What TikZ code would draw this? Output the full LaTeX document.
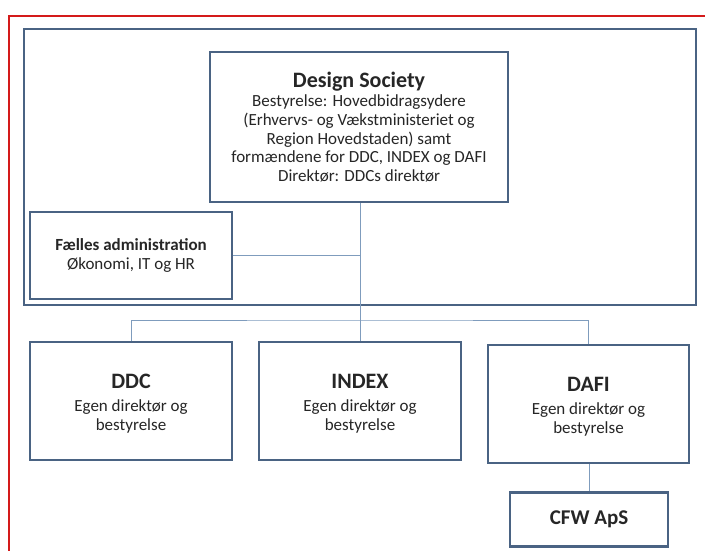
\documentclass[tikz,border=0pt]{standalone}
\usepackage{fontspec}
\setmainfont{Carlito}
\definecolor{boxline}{HTML}{4A6383}
\definecolor{conn}{HTML}{7F9CBD}
\definecolor{frame}{HTML}{D41A1A}
\begin{document}
\begin{tikzpicture}[x=1pt,y=-1pt,
  orgbox/.style={draw=boxline,line width=2.4pt,fill=white,align=center,inner sep=1pt,text=black!85,
    font=\fontsize{17}{18.7}\selectfont},
  connector/.style={draw=conn,line width=1pt}
]
\useasboundingbox (0,0) rectangle (705,550);
\fill[white] (0,0) rectangle (705,550);
% red frame
\draw[frame,line width=2pt] (9,560) -- (9,16) -- (720,16);
% outer container
\draw[boxline,line width=2.4pt] (24,29) rectangle (696,305);
% nodes
\node[orgbox,minimum width=298,minimum height=150] (ds) at (359,127)
  {{\fontsize{22}{23}\selectfont\bfseries Design Society}\\[1pt]
   Bestyrelse: Hovedbidragsydere\\
   (Erhvervs- og Vækstministeriet og\\
   Region Hovedstaden) samt\\
   formændene for DDC, INDEX og DAFI\\
   Direktør: DDCs direktør};
\node[orgbox,minimum width=202,minimum height=87] (fa) at (131,255.5)
  {{\bfseries Fælles administration}\\[1pt]Økonomi, IT og HR};
\node[orgbox,minimum width=202,minimum height=118] (ddc) at (131,401)
  {\rule{0pt}{19pt}{\fontsize{22}{25}\selectfont\bfseries DDC}\\[4.5pt]Egen direktør og\\bestyrelse};
\node[orgbox,minimum width=202,minimum height=118] (idx) at (360,401)
  {\rule{0pt}{19pt}{\fontsize{22}{25}\selectfont\bfseries INDEX}\\[4.5pt]Egen direktør og\\bestyrelse};
\node[orgbox,minimum width=201,minimum height=118] (dafi) at (588.5,404)
  {\rule{0pt}{19pt}{\fontsize{22}{25}\selectfont\bfseries DAFI}\\[4.5pt]Egen direktør og\\bestyrelse};
\node[orgbox,minimum width=158,minimum height=54] (cfw) at (589,519.5)
  {{\fontsize{21}{23}\selectfont\bfseries CFW ApS}};
% connectors
\coordinate (bus) at (360,320);
\draw[connector] (ds.south -| idx.north) -- (idx.north);
\draw[connector] (fa.east) -- (fa.east -| idx.north);
\draw[connector] (ddc.north) |- (bus) -| (dafi.north);
\draw[connector] (dafi.south -| cfw.north) -- (cfw.north);
\end{tikzpicture}
\end{document}
